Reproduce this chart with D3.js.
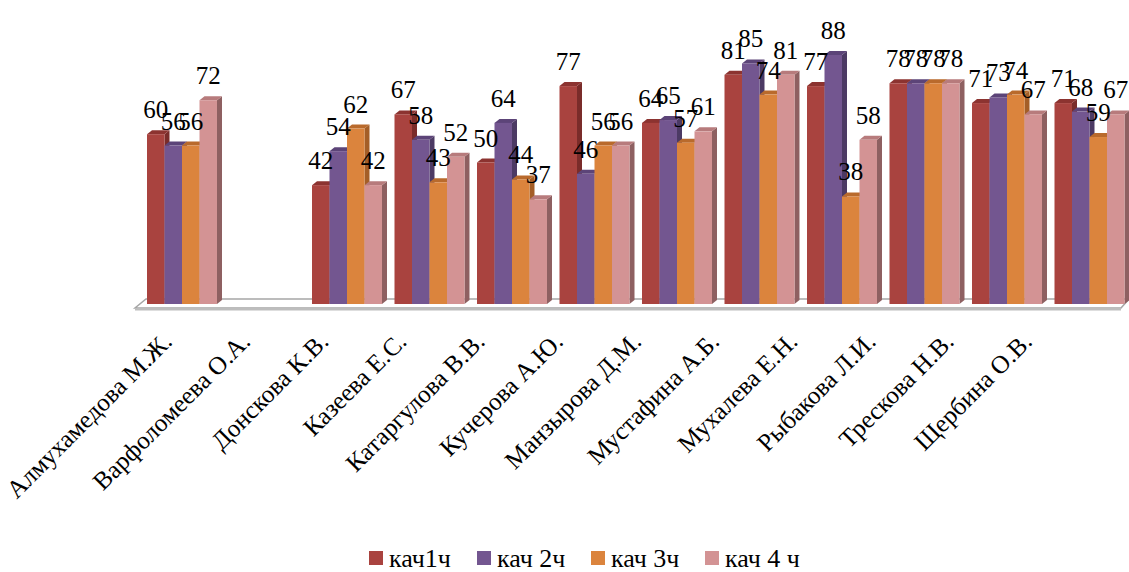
<!DOCTYPE html>
<html>
<head>
<meta charset="utf-8">
<script src="https://cdn.jsdelivr.net/npm/d3@7/dist/d3.min.js"></script>
<style>
  html, body { margin: 0; padding: 0; background: #fff; }
  svg { display: block; }
</style>
</head>
<body>
<svg id="chart" width="1129" height="572"></svg>
<script>
const categories = ["Алмухамедова М.Ж.", "Варфоломеева О.А.", "Донскова К.В.", "Казеева Е.С.",
  "Катаргулова В.В.", "Кучерова А.Ю.", "Манзырова Д.М.", "Мустафина А.Б.",
  "Мухалева Е.Н.", "Рыбакова Л.И.", "Трескова Н.В.", "Щербина О.В."];
const seriesNames = ["кач1ч", "кач 2ч", "кач 3ч", "кач 4 ч"];
const q1 = [60, null, 42, 67, 50, 77, 64, 81, 77, 78, 71, 71];
const q2 = [56, null, 54, 58, 64, 46, 65, 85, 88, 78, 73, 68];
const q3 = [56, null, 62, 43, 44, 56, 57, 74, 38, 78, 74, 59];
const q4 = [72, null, 42, 52, 37, 56, 61, 81, 58, 78, 67, 67];
const seriesValues = [q1, q2, q3, q4];

const FONT = "'Liberation Serif', 'Times New Roman', 'DejaVu Serif', serif";
const frontColors = ["#A9433F", "#735690", "#DB843D", "#D39394"];
const topColors   = ["#8C3330", "#5C4478", "#B96A2C", "#B77B7C"];
const sideColors  = ["#7A2C2A", "#4C3A64", "#A45E27", "#8E6061"];

const svg = d3.select("#chart");
const dx = 5, dy = 4;

const x0 = d3.scaleBand().domain(categories)
  .range([140.75, 1130.75]).paddingInner(12.5 / 82.5).paddingOuter(12.5 / 165);
const x1 = d3.scaleBand().domain(seriesNames).range([0, x0.bandwidth()]);
const y = d3.scaleLinear().domain([0, 100]).range([304, 21]);

// floor
const floorBack = 299, floorFront = 308;
svg.append("polygon")
  .attr("points", [[146, floorBack], [1129, floorBack], [1121, floorFront], [135, floorFront]].map(p => p.join(",")).join(" "))
  .attr("fill", "#fff").attr("stroke", "#a6a6a6").attr("stroke-width", 1.5);
svg.append("polygon")
  .attr("points", [[135, floorFront], [1121, floorFront], [1121, floorFront + 2.5], [135, floorFront + 2.5]].map(p => p.join(",")).join(" "))
  .attr("fill", "#bdbdbd");

// bars
const bars = [];
categories.forEach((c, i) => {
  seriesNames.forEach((s, j) => {
    const v = seriesValues[j][i];
    if (v == null) return;
    bars.push({ c, s, j, v });
  });
});

const g = svg.append("g");
bars.forEach(d => {
  const x = x0(d.c) + x1(d.s), w = x1.bandwidth();
  const t = y(d.v), b = y(0);
  const bg = g.append("g");
  bg.append("polygon")
    .attr("points", [[x + w, t], [x + w + dx, t - dy], [x + w + dx, b - dy], [x + w, b]].map(p => p.join(",")).join(" "))
    .attr("fill", sideColors[d.j]);
  bg.append("polygon")
    .attr("points", [[x, t], [x + dx, t - dy], [x + w + dx, t - dy], [x + w, t]].map(p => p.join(",")).join(" "))
    .attr("fill", topColors[d.j]);
  bg.append("rect")
    .attr("x", x).attr("y", t).attr("width", w).attr("height", b - t)
    .attr("fill", frontColors[d.j]);
});

// value labels
svg.append("g").selectAll("text").data(bars).join("text")
  .attr("x", d => x0(d.c) + x1(d.s) + x1.bandwidth() / 2)
  .attr("y", d => y(d.v) - 16)
  .attr("text-anchor", "middle")
  .attr("font-family", FONT)
  .attr("font-size", 25)
  .attr("fill", "#000")
  .text(d => d.v);

// category labels
svg.append("g").selectAll("text").data(categories).join("text")
  .attr("transform", d => {
    const cx = x0(d) + x0.bandwidth() / 2;
    const px = 0.9477 * cx + 1;
    return `translate(${px},343) rotate(-45)`;
  })
  .attr("text-anchor", "end")
  .attr("font-family", FONT)
  .attr("font-size", 25.2)
  .attr("fill", "#000")
  .text(d => d);

// legend
const legendX = [369, 477, 591, 705];
const lg = svg.append("g").selectAll("g").data(seriesNames).join("g")
  .attr("transform", (d, i) => `translate(${legendX[i]},551)`);
lg.append("rect").attr("width", 14).attr("height", 14).attr("fill", (d, i) => frontColors[i]);
lg.append("text").attr("x", 20).attr("y", 16)
  .attr("font-family", FONT).attr("font-size", 26).attr("fill", "#000").text(d => d);
</script>
</body>
</html>
